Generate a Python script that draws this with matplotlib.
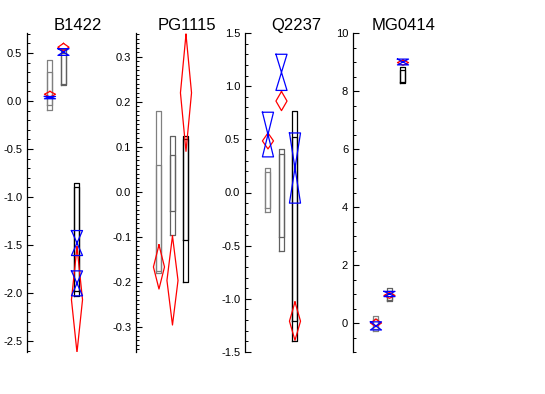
import matplotlib
matplotlib.use("Agg")
import matplotlib.pyplot as plt
from matplotlib.ticker import MultipleLocator
import numpy as np

plt.rcParams['font.family'] = ['Liberation Sans', 'DejaVu Sans']
plt.rcParams['axes.unicode_minus'] = False

names = ["B1422", "PG1115", "Q2237", "MG0414"]
ylims = [(-2.615, 0.708), (-0.356, 0.353), (-1.5, 1.5), (-1.0, 10.0)]
major_step = [0.5, 0.1, 0.5, 2.0]
minor_step = [0.1, 0.01, 0.1, 0.5]

# column positions of the three measurements in every panel
cols = [1, 2, 3]
box_colors = ["#808080", "#606060", "black"]

# boxes: two overlapping ranges per column (outer, inner)
box_outer_lo = [[-0.09, 0.17, -2.03], [-0.18, -0.042, -0.20], [-0.18, -0.55, -1.40], [-0.26, 0.77, 8.29]]
box_outer_hi = [[0.43, 0.54, -0.85], [0.18, 0.123, 0.123], [0.23, 0.41, 0.77], [0.24, 1.20, 8.84]]
box_inner_lo = [[-0.04, 0.18, -1.98], [-0.175, -0.096, -0.108], [-0.15, -0.42, -1.21], [-0.22, 0.80, 8.31]]
box_inner_hi = [[0.30, 0.50, -0.90], [0.06, 0.082, 0.117], [0.19, 0.365, 0.52], [0.15, 1.10, 8.72]]

# red diamonds: column, centre, half-height
red_x = [[1, 2, 3], [1, 2, 3], [1, 2, 3], [1, 2, 3]]
red_c = [[0.07, 0.56, -2.07], [-0.167, -0.197, 0.22], [0.485, 0.86, -1.21], [0.0, 0.95, 8.98]]
red_h = [[0.03, 0.04, 0.55], [0.049, 0.099, 0.13], [0.075, 0.09, 0.18], [0.13, 0.10, 0.09]]

# blue bow-ties: column, centre, half-height
blue_x = [[1, 2, 3, 3], [], [1, 2, 3], [1, 2, 3]]
blue_c = [[0.035, 0.51, -1.48, -1.90], [], [0.545, 1.13, 0.23], [-0.10, 1.0, 9.0]]
blue_h = [[0.012, 0.035, 0.13, 0.13], [], [0.21, 0.17, 0.33], [0.14, 0.09, 0.10]]

box_w = 0.185
mark_w = 0.41
lw = 0.9

fig = plt.figure(figsize=(5.45, 3.94), dpi=100)
W, H = 545.0, 394.0
lefts = [27, 136, 245, 353]
top_px, bot_px = 33, 352

for i, name in enumerate(names):
    ax = fig.add_axes([lefts[i] / W, (H - bot_px) / H, 102 / W, (bot_px - top_px) / H])
    ax.set_xlim(-0.7, 6.85)
    ax.set_ylim(*ylims[i])
    for s in ["top", "right", "bottom"]:
        ax.spines[s].set_visible(False)
    ax.spines["left"].set_linewidth(0.9)
    ax.set_xticks([])
    ax.yaxis.set_major_locator(MultipleLocator(major_step[i]))
    ax.yaxis.set_minor_locator(MultipleLocator(minor_step[i]))
    ax.tick_params(axis="y", which="major", direction="in", length=4.5, width=0.8,
                   labelsize=8, pad=3.5)
    ax.tick_params(axis="y", which="minor", direction="in", length=2.3, width=0.7)
    if i == 1:
        ax.yaxis.set_major_formatter(matplotlib.ticker.FormatStrFormatter("%.1f"))
    elif i == 3:
        ax.yaxis.set_major_formatter(matplotlib.ticker.FormatStrFormatter("%d"))
    else:
        ax.yaxis.set_major_formatter(matplotlib.ticker.FormatStrFormatter("%.1f"))
    ax.set_title(name, fontsize=12, pad=-0.5)

    for j, x in enumerate(cols):
        for lo, hi in [(box_outer_lo[i][j], box_outer_hi[i][j]),
                       (box_inner_lo[i][j], box_inner_hi[i][j])]:
            ax.plot([x - box_w, x + box_w, x + box_w, x - box_w, x - box_w],
                    [lo, lo, hi, hi, lo], color=box_colors[j], lw=lw)

    for x, c, h in zip(red_x[i], red_c[i], red_h[i]):
        ax.plot([x, x + mark_w, x, x - mark_w, x], [c + h, c, c - h, c, c + h],
                color="red", lw=lw)

    for x, c, h in zip(blue_x[i], blue_c[i], blue_h[i]):
        ax.plot([x - mark_w, x + mark_w, x - mark_w, x + mark_w, x - mark_w],
                [c + h, c + h, c - h, c - h, c + h], color="blue", lw=lw)

fig.savefig("out.png", dpi=100)
